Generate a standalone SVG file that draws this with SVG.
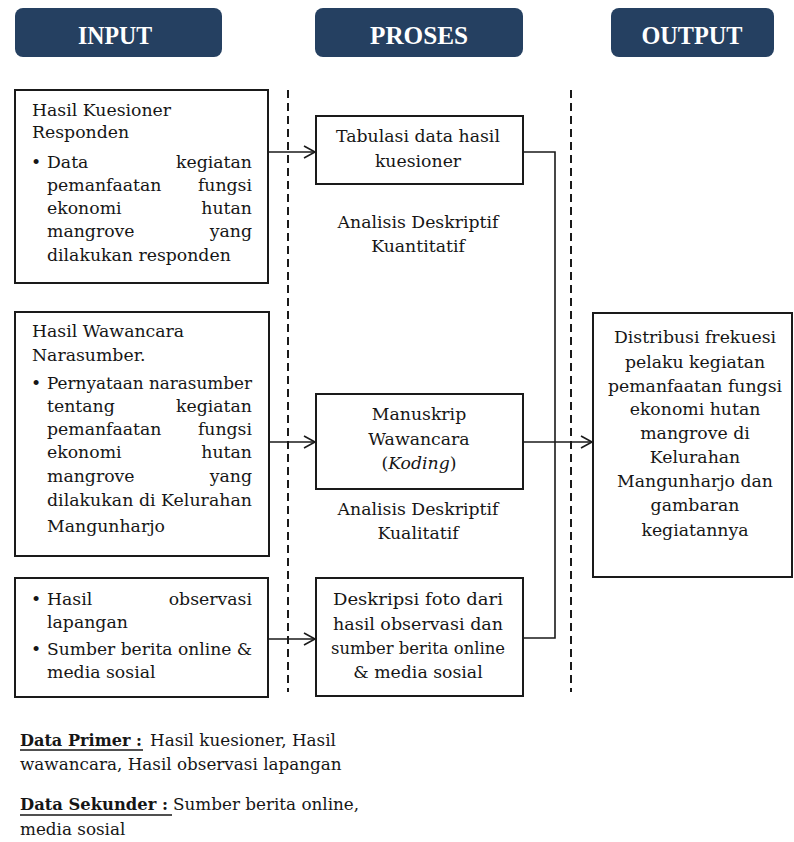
<svg xmlns="http://www.w3.org/2000/svg" width="794" height="842" viewBox="0 0 794 842">
<defs>
<style>
.hdr{fill:#254061;}
.hdrt{fill:#ffffff;font-family:"Liberation Serif",serif;font-weight:bold;font-size:26px;text-anchor:middle;}
.box{fill:#ffffff;stroke:#1a1a1a;stroke-width:2;}
.t{fill:#161616;font-family:"DejaVu Serif","Liberation Serif",serif;font-size:17.3px;}
.c{text-anchor:middle;}
.e{text-anchor:end;}
.b{fill:#161616;font-family:"DejaVu Serif","Liberation Serif",serif;font-size:16.8px;}
.bb{font-weight:bold;}
.dash{stroke:#1a1a1a;stroke-width:2;stroke-dasharray:8 5;fill:none;}
.ln{stroke:#1a1a1a;stroke-width:1.6;fill:none;}
</style>
<marker id="arr" markerUnits="userSpaceOnUse" markerWidth="14" markerHeight="16" refX="12" refY="7" orient="auto">
<path d="M1,1 L12,7 L1,13" fill="none" stroke="#1a1a1a" stroke-width="1.6"/>
</marker>
</defs>
<rect width="794" height="842" fill="#ffffff"/>

<g id="hdr-input"><rect class="hdr" x="15" y="8" width="207" height="49" rx="8"/><text class="hdrt" x="115" y="44" textLength="74" lengthAdjust="spacingAndGlyphs">INPUT</text></g>
<g id="hdr-proses"><rect class="hdr" x="315" y="8" width="208" height="49" rx="8"/><text class="hdrt" x="419" y="44" textLength="98" lengthAdjust="spacingAndGlyphs">PROSES</text></g>
<g id="hdr-output"><rect class="hdr" x="611" y="8" width="163" height="49" rx="8"/><text class="hdrt" x="692" y="44" textLength="101" lengthAdjust="spacingAndGlyphs">OUTPUT</text></g>

<g id="dividers">
<line class="dash" x1="288" y1="90" x2="288" y2="692"/>
<line class="dash" x1="571" y1="90" x2="571" y2="692"/>
</g>

<g id="connectors">
<line class="ln" x1="268" y1="152" x2="315" y2="152" marker-end="url(#arr)"/>
<line class="ln" x1="269" y1="442" x2="315" y2="442" marker-end="url(#arr)"/>
<line class="ln" x1="268" y1="639" x2="315" y2="639" marker-end="url(#arr)"/>
<polyline class="ln" points="523,152 555,152 555,638 523,638"/>
<line class="ln" x1="523" y1="442" x2="592" y2="442" marker-end="url(#arr)"/>
</g>

<g id="in-kuesioner">
<rect class="box" x="15" y="90" width="253" height="193"/>
<text class="t" x="32" y="116">Hasil Kuesioner</text>
<text class="t" x="32" y="138">Responden</text>
<text class="t" x="31" y="168">•</text>
<text class="t" x="47" y="168">Data</text><text class="t e" x="252" y="168">kegiatan</text>
<text class="t" x="47" y="191">pemanfaatan</text><text class="t e" x="252" y="191">fungsi</text>
<text class="t" x="47" y="214">ekonomi</text><text class="t e" x="252" y="214">hutan</text>
<text class="t" x="47" y="237">mangrove</text><text class="t e" x="252" y="237">yang</text>
<text class="t" x="47" y="261">dilakukan responden</text>
</g>

<g id="in-wawancara">
<rect class="box" x="15" y="312" width="254" height="244"/>
<text class="t" x="32" y="337">Hasil Wawancara</text>
<text class="t" x="32" y="361">Narasumber.</text>
<text class="t" x="31" y="389">•</text>
<text class="t" x="47" y="389" textLength="205" lengthAdjust="spacingAndGlyphs">Pernyataan  narasumber</text>
<text class="t" x="47" y="412">tentang</text><text class="t e" x="252" y="412">kegiatan</text>
<text class="t" x="47" y="435">pemanfaatan</text><text class="t e" x="252" y="435">fungsi</text>
<text class="t" x="47" y="458">ekonomi</text><text class="t e" x="252" y="458">hutan</text>
<text class="t" x="47" y="482">mangrove</text><text class="t e" x="252" y="482">yang</text>
<text class="t" x="47" y="506" textLength="205" lengthAdjust="spacingAndGlyphs">dilakukan di Kelurahan</text>
<text class="t" x="47" y="532">Mangunharjo</text>
</g>

<g id="in-observasi">
<rect class="box" x="15" y="578" width="253" height="119"/>
<text class="t" x="31" y="605">•</text>
<text class="t" x="47" y="605">Hasil</text><text class="t e" x="252" y="605">observasi</text>
<text class="t" x="47" y="628">lapangan</text>
<text class="t" x="31" y="655">•</text>
<text class="t" x="47" y="655" textLength="205" lengthAdjust="spacingAndGlyphs">Sumber berita online &amp;</text>
<text class="t" x="47" y="678">media  sosial</text>
</g>

<g id="p-tabulasi">
<rect class="box" x="316" y="116" width="207" height="68"/>
<text class="t c" x="418" y="142">Tabulasi data hasil</text>
<text class="t c" x="418" y="167">kuesioner</text>
</g>
<g id="lbl-kuantitatif">
<text class="t c" x="418" y="228">Analisis Deskriptif</text>
<text class="t c" x="418" y="252">Kuantitatif</text>
</g>

<g id="p-manuskrip">
<rect class="box" x="316" y="394" width="207" height="95"/>
<text class="t c" x="419" y="420">Manuskrip</text>
<text class="t c" x="419" y="445">Wawancara</text>
<text class="t c" x="419" y="469">(<tspan font-style="italic">Koding</tspan>)</text>
</g>
<g id="lbl-kualitatif">
<text class="t c" x="418" y="515">Analisis Deskriptif</text>
<text class="t c" x="418" y="539">Kualitatif</text>
</g>

<g id="p-deskripsi">
<rect class="box" x="316" y="578" width="207" height="118"/>
<text class="t c" x="418" y="605" textLength="170" lengthAdjust="spacingAndGlyphs">Deskripsi foto  dari</text>
<text class="t c" x="418" y="630" textLength="170" lengthAdjust="spacingAndGlyphs">hasil observasi dan</text>
<text class="t c" x="418" y="654" textLength="174" lengthAdjust="spacingAndGlyphs">sumber berita online</text>
<text class="t c" x="418" y="678">&amp; media  sosial</text>
</g>

<g id="out-distribusi">
<rect class="box" x="593" y="313" width="199" height="264"/>
<text class="t c" x="695" y="343">Distribusi frekuesi</text>
<text class="t c" x="695" y="368">pelaku kegiatan</text>
<text class="t c" x="695" y="392">pemanfaatan fungsi</text>
<text class="t c" x="695" y="415">ekonomi hutan</text>
<text class="t c" x="695" y="439">mangrove di</text>
<text class="t c" x="695" y="463">Kelurahan</text>
<text class="t c" x="695" y="487">Mangunharjo dan</text>
<text class="t c" x="695" y="511">gambaran</text>
<text class="t c" x="695" y="536">kegiatannya</text>
</g>

<g id="legend">
<text class="b bb" x="20" y="746" textLength="122" lengthAdjust="spacingAndGlyphs">Data Primer :</text>
<line x1="20" y1="750" x2="143" y2="750" stroke="#161616" stroke-width="1.4"/>
<text class="b" x="150" y="746">Hasil kuesioner, Hasil</text>
<text class="b" x="20" y="770">wawancara, Hasil observasi lapangan</text>
<text class="b bb" x="20" y="810" textLength="148" lengthAdjust="spacingAndGlyphs">Data Sekunder :</text>
<line x1="20" y1="815" x2="172" y2="815" stroke="#161616" stroke-width="1.4"/>
<text class="b" x="173" y="810">Sumber berita online,</text>
<text class="b" x="20" y="835">media sosial</text>
</g>
</svg>
